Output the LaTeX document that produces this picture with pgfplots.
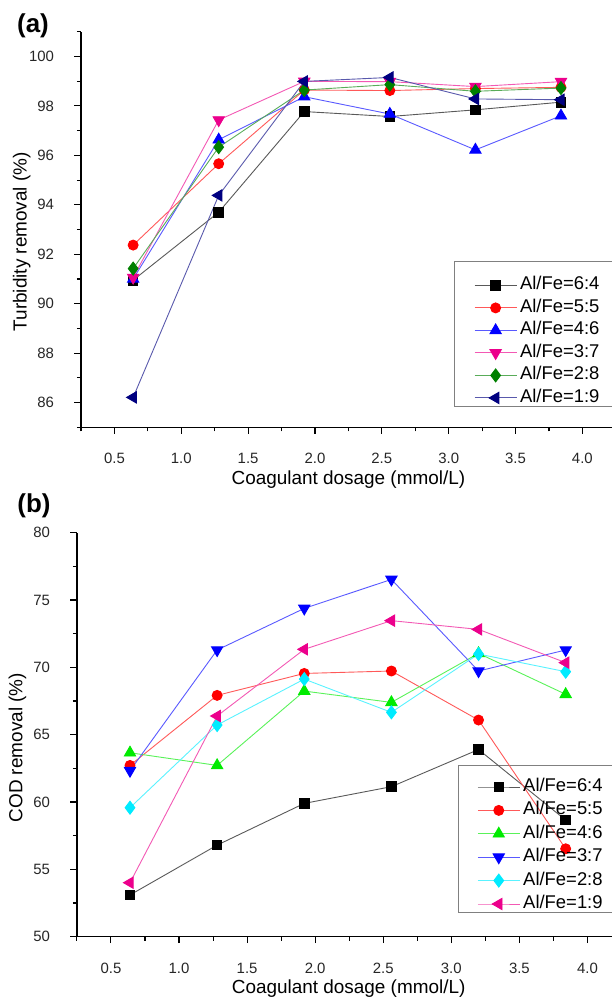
\documentclass[border=0pt]{standalone}
\usepackage{fontspec}
\setmainfont{Liberation Sans}
\usepackage{pgfplots}
\pgfplotsset{compat=1.18}

\definecolor{cgreen}{RGB}{0,128,0}
\definecolor{cnavy}{RGB}{0,0,128}
\definecolor{cbright}{RGB}{0,235,0}
\definecolor{ccyan}{RGB}{0,235,255}

\pgfplotsset{
 base/.style={
  scale only axis,
  axis lines=left,
  axis line style={line width=1.3bp,-},
  tick style={line width=1.1bp,black},
  tick align=outside,
  major tick length=6.5bp,
  minor tick length=4bp,
  xmin=0.25, xmax=4.25,
  xtick={0.5,1,1.5,2,2.5,3,3.5,4},
  xticklabels={0.5,1.0,1.5,2.0,2.5,3.0,3.5,4.0},
  minor xtick={0.25,0.75,1.25,1.75,2.25,2.75,3.25,3.75,4.25},
  /pgf/number format/assume math mode=true,
  tick label style={font=\fontsize{15}{18}\selectfont,color=black!85},
  xticklabel style={anchor=center,yshift=-25bp},
  yticklabel style={anchor=east,xshift=-17bp},
  label style={font=\fontsize{19}{22}\selectfont},
  legend style={draw=none,fill=none,
    font=\fontsize{18.5}{20}\selectfont,
    inner xsep=19bp, inner ysep=3bp, row sep=1.5bp,
    nodes={inner xsep=3bp,inner ysep=2bp,text height=13bp,text depth=4bp}},
  legend cell align=left,
  legend image code/.code={\draw[mark repeat=2,mark phase=2] plot coordinates {(0bp,0bp)(21bp,0bp)(42bp,0bp)};},
  clip=false,
 },
 s/.style n args={4}{color=#1!65!white,line width=0.9bp,mark=#2,mark size=#3,mark options={fill=#1,draw=#1,solid,rotate=#4}},
}

\begin{document}
\begin{tikzpicture}
\path[use as bounding box] (0,0) rectangle (612bp,-998bp);

\node[font=\bfseries\fontsize{26}{28}\selectfont] at (33bp,-26bp) {(a)};
\node[font=\bfseries\fontsize{26}{28}\selectfont] at (34bp,-506bp) {(b)};

% Panel (a)
\begin{axis}[base,
  at={(81bp,-427.3bp)}, anchor=south west,
  width=534.8bp, height=395.6bp,
  ymin=85, ymax=101,
  ytick={86,88,90,92,94,96,98,100},
  minor ytick={85,87,89,91,93,95,97,99,101},
  xlabel={Coagulant dosage (mmol/L)},
  ylabel={Turbidity removal (\%)},
  xlabel style={at={(axis description cs:0.5,-0.133)},anchor=center},
  ylabel style={at={(axis description cs:-0.111,0.469)},anchor=center},
  legend style={at={(axis description cs:0.6993,0.3933)},anchor=north west},
]
\draw[gray,line width=1bp] (axis description cs:1.05,0.4186) -- (axis description cs:0.6993,0.4186) -- (axis description cs:0.6993,0.0538) -- (axis description cs:1.05,0.0538);
\addplot[s={black}{square*}{4.8bp}{0}] coordinates {(0.64,90.95)(1.28,93.70)(1.92,97.77)(2.56,97.57)(3.2,97.84)(3.84,98.15)};
\addlegendentry{Al/Fe=6:4}
\addplot[s={red}{*}{5bp}{0}] coordinates {(0.64,92.37)(1.28,95.66)(1.92,98.64)(2.56,98.62)(3.2,98.70)(3.84,98.75)};
\addlegendentry{Al/Fe=5:5}
\addplot[s={blue}{triangle*}{6.5bp}{0}] coordinates {(0.64,91.00)(1.28,96.63)(1.92,98.37)(2.56,97.67)(3.2,96.22)(3.84,97.60)};
\addlegendentry{Al/Fe=4:6}
\addplot[s={magenta}{triangle*}{6.5bp}{180}] coordinates {(0.64,91.06)(1.28,97.43)(1.92,98.99)(2.56,98.98)(3.2,98.78)(3.84,98.98)};
\addlegendentry{Al/Fe=3:7}
\addplot[s={cgreen}{diamond*}{6.5bp}{0}] coordinates {(0.64,91.42)(1.28,96.33)(1.92,98.64)(2.56,98.86)(3.2,98.59)(3.84,98.72)};
\addlegendentry{Al/Fe=2:8}
\addplot[s={cnavy}{triangle*}{6.5bp}{90}] coordinates {(0.64,86.21)(1.28,94.38)(1.92,98.99)(2.56,99.15)(3.2,98.28)(3.84,98.25)};
\addlegendentry{Al/Fe=1:9}
\end{axis}

% Panel (b)
\begin{axis}[base,
  at={(76.9bp,-936.7bp)}, anchor=south west,
  width=544.6bp, height=404bp,
  ymin=50, ymax=80,
  ytick={50,55,60,65,70,75,80},
  minor ytick={52.5,57.5,62.5,67.5,72.5,77.5},
  xlabel={Coagulant dosage (mmol/L)},
  ylabel={COD removal (\%)},
  xlabel style={at={(axis description cs:0.499,-0.129)},anchor=center},
  ylabel style={at={(axis description cs:-0.109,0.468)},anchor=center},
  legend style={at={(axis description cs:0.700,0.4045)},anchor=north west,row sep=2.4bp},
]
\draw[gray,line width=1bp] (axis description cs:1.05,0.425) -- (axis description cs:0.700,0.425) -- (axis description cs:0.700,0.0594) -- (axis description cs:1.05,0.0594);
\addplot[s={black}{square*}{4.8bp}{0}] coordinates {(0.64,53.10)(1.28,56.80)(1.92,59.90)(2.56,61.14)(3.2,63.90)(3.84,58.66)};
\addlegendentry{Al/Fe=6:4}
\addplot[s={red}{*}{5bp}{0}] coordinates {(0.64,62.72)(1.28,67.92)(1.92,69.55)(2.56,69.73)(3.2,66.09)(3.84,56.53)};
\addlegendentry{Al/Fe=5:5}
\addplot[s={cbright}{triangle*}{6.5bp}{0}] coordinates {(0.64,63.66)(1.28,62.72)(1.92,68.24)(2.56,67.40)(3.2,71.04)(3.84,68.00)};
\addlegendentry{Al/Fe=4:6}
\addplot[s={blue}{triangle*}{6.5bp}{180}] coordinates {(0.64,62.33)(1.28,71.29)(1.92,74.38)(2.56,76.53)(3.2,69.73)(3.84,71.29)};
\addlegendentry{Al/Fe=3:7}
\addplot[s={ccyan}{diamond*}{6.5bp}{0}] coordinates {(0.64,59.58)(1.28,65.72)(1.92,69.13)(2.56,66.66)(3.2,70.99)(3.84,69.68)};
\addlegendentry{Al/Fe=2:8}
\addplot[s={magenta}{triangle*}{6.5bp}{90}] coordinates {(0.64,54.01)(1.28,66.39)(1.92,71.34)(2.56,73.47)(3.2,72.82)(3.84,70.35)};
\addlegendentry{Al/Fe=1:9}
\end{axis}
\end{tikzpicture}
\end{document}
